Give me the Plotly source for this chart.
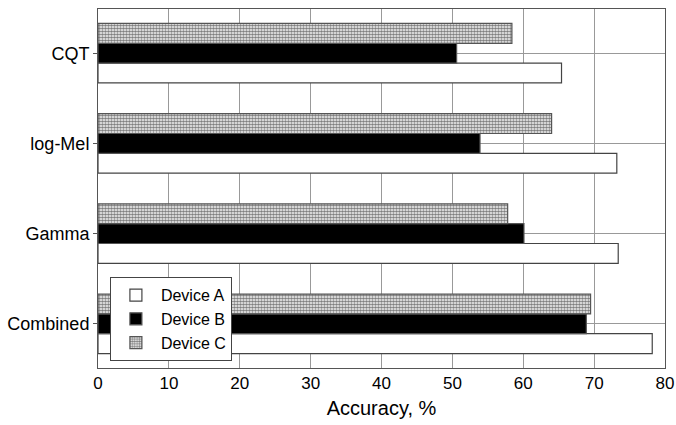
import plotly.graph_objects as go

categories = ["Combined", "Gamma", "log-Mel", "CQT"]
device_a = [78.2, 73.4, 73.2, 65.4]
device_b = [68.9, 60.1, 53.9, 50.6]
device_c = [69.5, 57.8, 64.0, 58.4]
x_ticks = [0, 10, 20, 30, 40, 50, 60, 70, 80]

fig = go.Figure()
fig.add_trace(go.Bar(
    y=categories, x=device_a, orientation="h", name="Device A",
    marker=dict(color="white", line=dict(color="#444", width=1.2)),
))
fig.add_trace(go.Bar(
    y=categories, x=device_b, orientation="h", name="Device B",
    marker=dict(color="black", line=dict(color="#555", width=1.2)),
))
fig.add_trace(go.Bar(
    y=categories, x=device_c, orientation="h", name="Device C",
    marker=dict(color="white", line=dict(color="#555", width=1.2),
                pattern=dict(shape=".", size=3, solidity=0.65,
                             fgcolor="black", bgcolor="white")),
))

fig.update_layout(
    width=676, height=425,
    margin=dict(l=98, r=11, t=9, b=57),
    barmode="group", bargap=0.34, bargroupgap=0,
    plot_bgcolor="white", paper_bgcolor="white",
    font=dict(family="Liberation Sans, Arial, sans-serif", size=18, color="black"),
    legend=dict(x=0.021, y=0.253, xanchor="left", yanchor="top",
                bgcolor="white", bordercolor="#444", borderwidth=1,
                font=dict(size=16), traceorder="normal", itemwidth=40),
    xaxis=dict(range=[0, 80], tickvals=x_ticks, showgrid=True, automargin=False,
               gridcolor="#999", gridwidth=1, zeroline=False,
               showline=True, linecolor="#555", mirror=True,
               ticks="", tickfont=dict(size=17),
               title=dict(text="Accuracy, %", font=dict(size=20), standoff=8)),
    yaxis=dict(range=[-0.49, 3.49], showgrid=True, gridcolor="#999", gridwidth=1,
               automargin=False, tickfont=dict(size=18),
               showline=True, linecolor="#555", mirror=True,
               ticks="outside", ticklen=4, tickcolor="#555"),
)

fig.write_html("out.html", config={"displayModeBar": False},
               post_script="document.body.style.margin='0';")
